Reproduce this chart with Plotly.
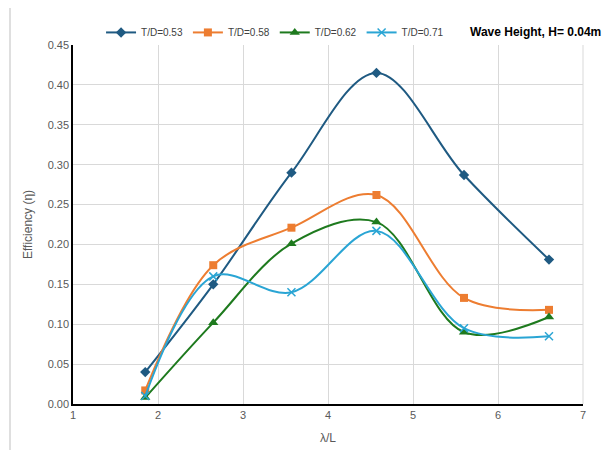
import plotly.graph_objects as go

x_vals = [1.85, 2.65, 3.57, 4.57, 5.6, 6.6]
td053 = [0.040, 0.150, 0.290, 0.415, 0.287, 0.181]
td058 = [0.017, 0.174, 0.221, 0.262, 0.133, 0.118]
td062 = [0.008, 0.102, 0.201, 0.228, 0.090, 0.109]
td071 = [0.010, 0.160, 0.140, 0.217, 0.095, 0.085]

series = [
    ("T/D=0.53", td053, "#1F5A82", "diamond", 8),
    ("T/D=0.58", td058, "#ED7D31", "square", 8),
    ("T/D=0.62", td062, "#1E7A1E", "triangle-up", 9),
    ("T/D=0.71", td071, "#2AA5D4", "x-thin", 8),
]

fig = go.Figure()
for name, ys, col, sym, sz in series:
    marker = dict(symbol=sym, size=sz, color=col)
    if sym == "x-thin":
        marker["line"] = dict(color=col, width=1.5)
    fig.add_trace(go.Scatter(
        x=x_vals, y=ys, name=name, mode="lines+markers",
        line=dict(color=col, width=2, shape="spline", smoothing=1.0),
        marker=marker,
    ))

fig.update_layout(
    width=604, height=442,
    margin=dict(l=65, r=29, t=37, b=46, autoexpand=False),
    paper_bgcolor="white", plot_bgcolor="white",
    font=dict(family="Liberation Sans, Arial, sans-serif", color="#595959", size=11),
    showlegend=True,
    legend=dict(orientation="h", x=0.055, y=1.035, xanchor="left", yanchor="middle",
                font=dict(size=10, color="#404040"), bgcolor="rgba(0,0,0,0)",
                itemwidth=30, tracegroupgap=0),
    xaxis=dict(range=[1, 7], dtick=1, tick0=1, showgrid=True, gridcolor="#D9D9D9",
               showline=True, linecolor="black", linewidth=1.5, zeroline=False, automargin=False,
               ticks="", title=dict(text="λ/L", font=dict(size=12, color="#595959"), standoff=14)),
    yaxis=dict(range=[0, 0.45], dtick=0.05, tickformat=".2f", showgrid=True, gridcolor="#D9D9D9",
               showline=True, linecolor="black", linewidth=1.5, zeroline=False, automargin=False,
               ticks="", title=dict(text="Efficiency (η)", font=dict(size=12, color="#595959"), standoff=12)),
    annotations=[dict(text="<b>Wave Height, H= 0.04m</b>", xref="paper", yref="paper",
                      x=1.04, y=1.036, xanchor="right", yanchor="middle", showarrow=False,
                      font=dict(size=12, color="black"))],
    shapes=[dict(type="line", xref="paper", yref="paper", x0=-0.1235, x1=-0.1235, y0=-0.13, y1=1.13,
                 line=dict(color="#BFBFBF", width=1))],
)
fig.add_shape(type="line", xref="paper", yref="paper", x0=1, x1=1, y0=0, y1=1,
              line=dict(color="#D9D9D9", width=1))

fig.write_html("out.html")
